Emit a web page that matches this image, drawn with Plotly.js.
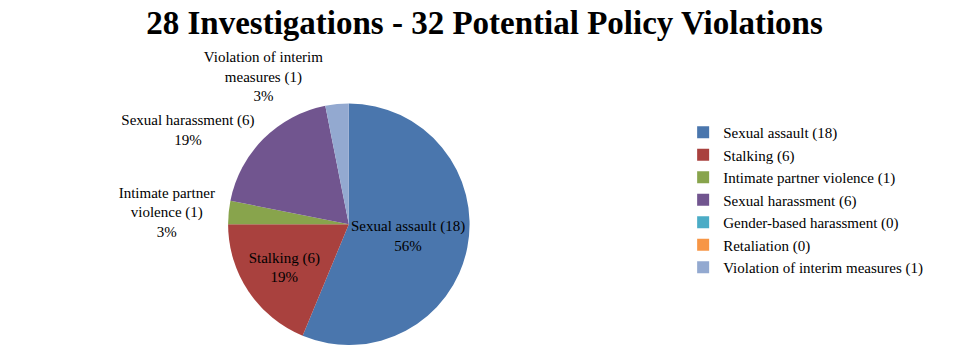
<!DOCTYPE html>
<html><head><meta charset="utf-8">
<script src="https://cdn.plot.ly/plotly-3.0.1.min.js"></script>
<style>html,body{margin:0;padding:0;background:#fff}#chart{width:969px;height:345px}</style>
</head><body><div id="chart"></div>
<script>
const categories = ["Sexual assault (18)","Stalking (6)","Intimate partner violence (1)","Sexual harassment (6)","Gender-based harassment (0)","Retaliation (0)","Violation of interim measures (1)"];
const counts = [18, 6, 1, 6, 0, 0, 1];
const sliceLabels = ["Sexual assault (18)","Stalking (6)","Intimate partner<br>violence (1)","Sexual harassment (6)","","","Violation of interim<br>measures (1)"];
const colors = ["#4A76AD","#A9413E","#88A44C","#71558F","#4BACC6","#F79646","#93A9D0"];

const total = counts.reduce((a,b)=>a+b,0);
const texts = counts.map((v,i)=> v>0 ? sliceLabels[i] + "<br>" + Math.round(v/total*100) + "%" : "");
const positions = counts.map((v,i)=> v===0 ? "none" : (i<2 ? "inside" : "outside"));

Plotly.newPlot("chart", [{
  type: "pie",
  labels: categories,
  values: counts,
  text: texts,
  textinfo: "text",
  textposition: positions,
  sort: false,
  direction: "clockwise",
  rotation: 0,
  marker: {colors: colors, line: {color: "#ffffff", width: 0}},
  textfont: {family: "Liberation Serif", size: 15, color: "#000"},
  insidetextorientation: "horizontal",
  domain: {x: [0.2, 0.52], y: [0.0, 0.7]},
  showlegend: true,
  hoverinfo: "label+value+percent"
}], {
  width: 969, height: 345,
  margin: {l: 0, r: 0, t: 0, b: 0},
  paper_bgcolor: "#fff",
  title: {text: "<b>28 Investigations - 32 Potential Policy Violations</b>", x: 0.5, xanchor: "center", y: 0.935, yanchor: "middle",
          font: {family: "Liberation Serif", size: 33, color: "#000"}},
  legend: {x: 0.705, xanchor: "left", y: 0.42, yanchor: "middle", font: {family: "Liberation Serif", size: 15, color: "#000"}, traceorder: "normal"},
  showlegend: true
}, {displayModeBar: false});
</script></body></html>
